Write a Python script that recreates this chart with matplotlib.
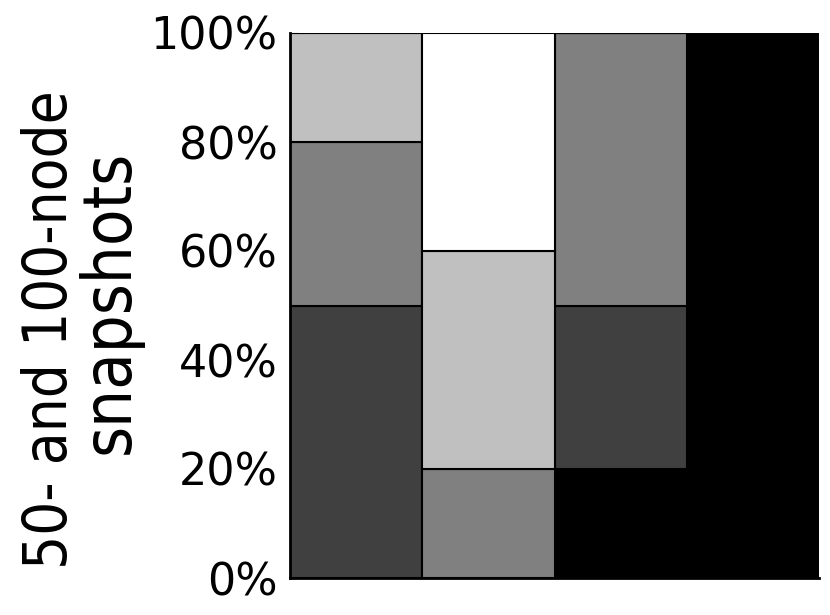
import numpy as np
import matplotlib.pyplot as plt
from matplotlib.ticker import MultipleLocator, PercentFormatter

# stacked shares per column, bottom to top by shade
columns = [0, 1, 2, 3]
black = [0, 0, 20, 100]
dark = [50, 0, 30, 0]
gray = [30, 20, 50, 0]
light = [20, 40, 0, 0]
white = [0, 40, 0, 0]

layers = [black, dark, gray, light, white]
shades = ['#000000', '#404040', '#808080', '#c0c0c0', '#ffffff']
label_lines = ['50- and 100-node', 'snapshots']

fig = plt.figure(figsize=(8.3, 6.15), dpi=100)
ax = fig.add_axes([290 / 830, 37 / 615, 529 / 830, 545 / 615])

bottom = np.zeros(len(columns))
for vals, c in zip(layers, shades):
    vals = np.array(vals, dtype=float)
    ax.bar(columns, vals, bottom=bottom, width=1.0, color=c,
           edgecolor='black', linewidth=1.5, zorder=2)
    bottom += vals

ax.set_xlim(-0.5, 3.5)
ax.set_ylim(0, 100)
ax.yaxis.set_major_locator(MultipleLocator(20))
ax.yaxis.set_minor_locator(MultipleLocator(10))
ax.yaxis.set_major_formatter(PercentFormatter(decimals=0))
ax.set_xticks([])
ax.tick_params(axis='y', which='both', direction='in', labelsize=32, pad=9)
ax.tick_params(axis='y', which='major', length=6)
ax.tick_params(axis='y', which='minor', length=3)
for s in ['top', 'right']:
    ax.spines[s].set_visible(False)
for s in ['left', 'bottom']:
    ax.spines[s].set_linewidth(2)

# y label, drawn as two narrow lines like the original
fig.text(50 / 830, 1 - 330 / 615, label_lines[0], rotation=90, ha='center',
         va='center', fontsize=43, family='DejaVu Sans', stretch='condensed')
fig.text(110 / 830, 1 - 302 / 615, label_lines[1], rotation=90, ha='center',
         va='center', fontsize=48, family='DejaVu Sans', stretch='condensed')

fig.savefig('out.png', dpi=100)
